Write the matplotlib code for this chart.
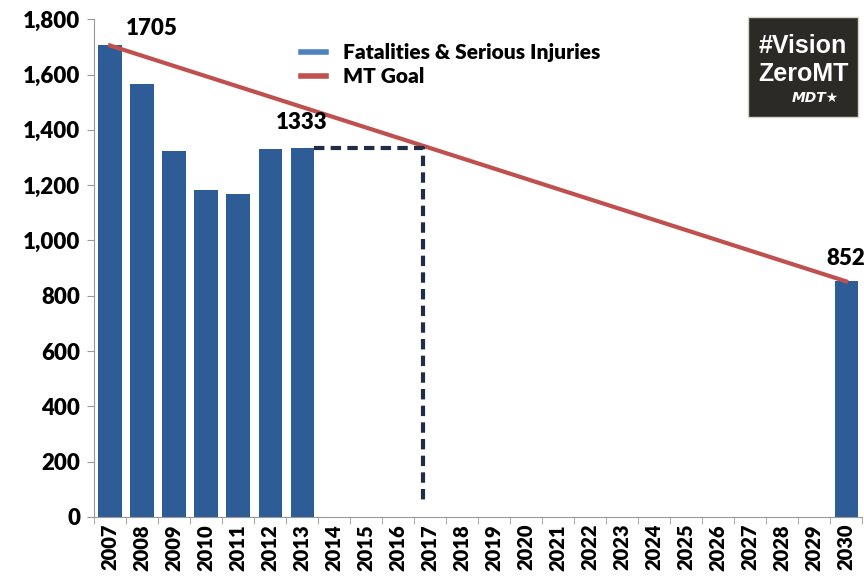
import matplotlib.pyplot as plt
import numpy as np
from matplotlib.patches import Rectangle

plt.rcParams['font.family'] = ['Lato', 'DejaVu Sans']

# data
years = [str(y) for y in range(2007, 2031)]
actual = {2007: 1705, 2008: 1565, 2009: 1322, 2010: 1183, 2011: 1167,
          2012: 1332, 2013: 1333, 2030: 852}
goal_start = 1705
goal_end = 852
dash_level = 1333
dash_x_end = 9.77   # position on category axis (just left of 2017)
dash_bottom = 60

bar_color = '#2E5C96'
goal_color = '#C0504D'

x = np.arange(len(years))
vals = [actual.get(int(y), 0) for y in years]

fig = plt.figure(figsize=(8.64, 5.87), dpi=100)
ax = fig.add_axes([0.1088, 0.1193, 0.889, 0.848])

ax.bar(x, vals, width=0.72, color=bar_color, zorder=2)
ax.plot([0, 23], [goal_start, goal_end], color=goal_color, lw=3, zorder=3)

# dashed projection line
bx = 6 + 0.36
ax.plot([bx, dash_x_end, dash_x_end], [dash_level, dash_level, dash_bottom],
        color='#1F2D45', lw=3, ls=(0, (2.5, 1.5)), zorder=3)

# value labels
ax.text(0.5, 1765, '1705', fontsize=16, fontweight='heavy', ha='left', va='center')
ax.text(6.0, 1425, '1333', fontsize=16, fontweight='heavy', ha='center', va='center')
ax.text(23, 935, '852', fontsize=16, fontweight='heavy', ha='center', va='center')

ax.set_xlim(-0.5, 23.5)
ax.set_ylim(0, 1800)
ax.set_yticks(np.arange(0, 1801, 200))
ax.set_yticklabels([f'{v:,}' for v in range(0, 1801, 200)], fontsize=16, fontweight='heavy')
ax.set_xticks(x)
ax.set_xticklabels(years, rotation=90, fontsize=14.5, fontweight='heavy')
ax.set_xticks(np.arange(-0.5, 24, 1), minor=True)
ax.tick_params(axis='x', which='major', length=0, pad=5)
ax.tick_params(axis='x', which='minor', length=5, color='#999999')
ax.tick_params(axis='y', length=5, color='#999999', pad=5)
for s in ['top', 'right']:
    ax.spines[s].set_visible(False)
for s in ['left', 'bottom']:
    ax.spines[s].set_color('#999999')

# legend
h1, = ax.plot([], [], color='#4F81BD', lw=4)
h2, = ax.plot([], [], color=goal_color, lw=4)
ax.legend([h1, h2], ['Fatalities & Serious Injuries', 'MT Goal'],
          loc='upper left', bbox_to_anchor=(0.245, 0.99), frameon=False,
          prop={'size': 15, 'weight': 'heavy'}, handlelength=1.2,
          handletextpad=0.8, labelspacing=0.25)

# logo box
fig.patches.append(Rectangle((748 / 864, 1 - 117 / 587), 110 / 864, 100 / 587,
                             transform=fig.transFigure, facecolor='#2B2A26',
                             edgecolor='#D8D4C8', lw=1, zorder=5))
fig.text(803 / 864, 1 - 46 / 587, '#Vision', color='white', fontsize=18,
         fontweight='bold', ha='center', va='center', zorder=6,
         family=['Liberation Sans'])
fig.text(803 / 864, 1 - 74 / 587, 'ZeroMT', color='white', fontsize=18,
         fontweight='bold', ha='center', va='center', zorder=6,
         family=['Liberation Sans'])
fig.text(815 / 864, 1 - 98 / 587, 'MDT★', color='white', fontsize=10,
         fontweight='bold', style='italic', ha='center', va='center', zorder=6,
         family=['DejaVu Sans'])

fig.savefig('out.png', dpi=100)
